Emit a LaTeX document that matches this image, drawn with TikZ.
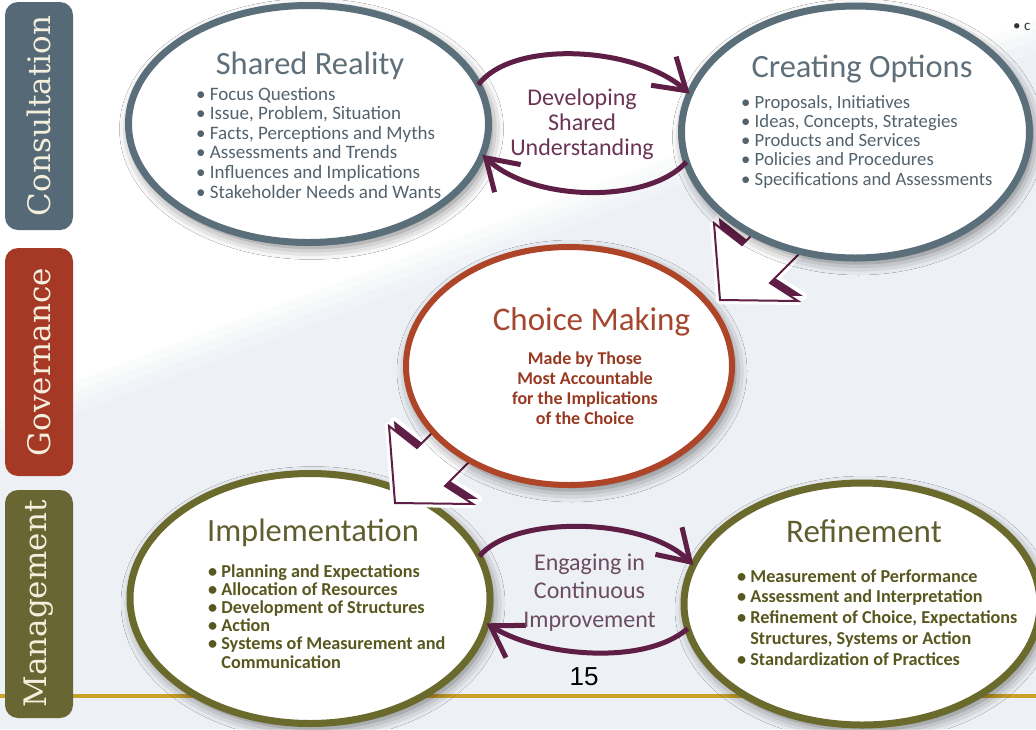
\documentclass[tikz,border=0pt]{standalone}
\usepackage{fontspec}
\setmainfont{Carlito}
\newfontfamily\sidefont{DejaVu Serif}
\newfontfamily\numfont{Liberation Sans}
\usetikzlibrary{arrows.meta,shapes.geometric,shadows.blur}
\definecolor{bg}{HTML}{EDF0F5}
\definecolor{slate}{HTML}{5B6F7B}
\definecolor{slatetxt}{HTML}{53636E}
\definecolor{slatettl}{HTML}{5F6F79}
\definecolor{brick}{HTML}{AE4529}
\definecolor{bricktxt}{HTML}{983921}
\definecolor{brickttl}{HTML}{A5472E}
\definecolor{olive}{HTML}{6B6A2D}
\definecolor{olivetxt}{HTML}{58571F}
\definecolor{olivettl}{HTML}{5F5E2E}
\definecolor{plum}{HTML}{5E1E45}
\definecolor{plumtxt}{HTML}{6A3555}
\definecolor{greyplum}{HTML}{6C4C63}
\definecolor{gold}{HTML}{C9A12B}
\definecolor{cons}{HTML}{556976}
\definecolor{gov}{HTML}{A53926}
\definecolor{mgmt}{HTML}{686633}
\definecolor{cream}{HTML}{F4EFDD}
\tikzset{
  bubble/.style={ellipse, fill=white, inner sep=0pt, outer sep=0pt,
    blur shadow={shadow xshift=3pt, shadow yshift=-5pt, shadow blur radius=12pt, shadow opacity=55}},
  sidebox/.style={rounded corners=13pt, minimum width=228pt, minimum height=68pt, inner sep=0pt,
    text=cream, rotate=90, font=\sidefont\fontsize{31}{31}\selectfont},
  ttl/.style={inner sep=0pt, anchor=base, font=\fontsize{32.5}{34}\selectfont},
  blt/.style={inner sep=0pt, anchor=base west},
  cycarrow/.style={draw=plum, line width=5pt, -{Straight Barb[length=30pt,width=38pt]}},
  flowtext/.style={inner sep=0pt, anchor=base, font=\fontsize{24}{26}\selectfont},
  blockarrow/.pic={
    \path[draw=white, fill=white, line width=8pt, line join=round]
      (0,0) -- (-6,-77) -- (22,-55) -- (72,-105) -- (100,-67) -- (50,-17) -- (78,1) -- cycle;
    \path[draw=white, fill=white, line width=8pt, line join=round, shift={(-5,5)}]
      (0,0) -- (-6,-77) -- (22,-55) -- (72,-105) -- (100,-67) -- (50,-17) -- (78,1) -- cycle;
    \fill[plum]
      (0,0) -- (-6,-77) -- (22,-55) -- (72,-105) -- (100,-67) -- (50,-17) -- (78,1) -- cycle;
    \path[fill=white, draw=plum, line width=2pt, shift={(-5,5)}]
      (0,0) -- (-6,-77) -- (22,-55) -- (72,-105) -- (100,-67) -- (50,-17) -- (78,1) -- cycle;
  }
}
\begin{document}
\begin{tikzpicture}[x=1pt,y=-1pt]
\useasboundingbox (0,0) rectangle (1036,729);
% background
\fill[bg] (0,0) rectangle (1036,729);
\foreach \d/\o in {0/1,10/0.55,20/0.35,32/0.2}
  \fill[white, opacity=\o] (0,0) -- (1036,0) -- (1036,{20+\d}) -- (0,{410+\d}) -- cycle;
\draw[gold, line width=3.5pt] (0,696) -- (1036,696);
% side labels
\node[sidebox, fill=cons] (consult) at (39,116) {Consultation};
\node[sidebox, fill=gov] (govern) at (39,362) {Governance};
\node[sidebox, fill=mgmt] (manage) at (39,604) {Management};
% ellipses
\node[bubble, draw=slate, line width=7pt, minimum width=360pt, minimum height=237pt] (sr) at (308.5,124) {};
\node[bubble, draw=olive, line width=7pt, minimum width=360pt, minimum height=250pt] (im) at (310,598.5) {};
\pic (ba2) at (400,498) {blockarrow};
\node[bubble, draw=brick, line width=6pt, minimum width=326pt, minimum height=238pt] (cm) at (569,366) {};
\pic (ba1) at (725,295) {blockarrow};
\node[bubble, draw=slate, line width=7pt, minimum width=348pt, minimum height=252pt] (co) at (855.5,132) {};
\node[bubble, draw=olive, line width=7pt, minimum width=356pt, minimum height=242pt] (rf) at (862,604) {};
% cycle arrows
\draw[cycarrow] (sr.13) .. controls +(33,-45) and +(-55,-48) .. (co.167);
\draw[cycarrow] (co.190) .. controls +(-37,42) and +(51,48) .. (sr.-10);
\draw[cycarrow] (im.14) .. controls +(33,-41) and +(-50,-49) .. (rf.167);
\draw[cycarrow] (rf.188) .. controls +(-42,37) and +(55,34) .. (im.-8);
% middle texts
\node[flowtext, text=plumtxt] (dev1) at (582,105) {Developing};
\node[flowtext, text=plumtxt] (dev2) at (582,130) {Shared};
\node[flowtext, text=plumtxt] (dev3) at (582,155) {Understanding};
\node[flowtext, text=greyplum] (eng1) at (589.5,570) {Engaging in};
\node[flowtext, text=greyplum] (eng2) at (589.5,598.5) {Continuous};
\node[flowtext, text=greyplum] (eng3) at (589.5,627) {Improvement};
\node[inner sep=0pt, font=\numfont\fontsize{26}{26}\selectfont] (pg) at (584,677) {15};
\node[blt, font=\fontsize{15}{15}\selectfont, text=black!80] (corner) at (1013,30) {• c};
% Shared Reality
\node[ttl, text=slatettl] (srt) at (310,74) {Shared Reality};
\foreach \itm [count=\i] in {Focus Questions,{Issue, Problem, Situation},{Facts, Perceptions and Myths},Assessments and Trends,Influences and Implications,Stakeholder Needs and Wants}
  \node[blt, text=slatetxt, font=\fontsize{19}{19}\selectfont] (sr-i\i) at (196,{100+19.6*(\i-1)}) {• \itm};
% Creating Options
\node[ttl, text=slatettl] (cot) at (862,77) {Creating Options};
\foreach \itm [count=\i] in {{Proposals, Initiatives},{Ideas, Concepts, Strategies},Products and Services,Policies and Procedures,Specifications and Assessments}
  \node[blt, text=slatetxt, font=\fontsize{18.7}{19}\selectfont] (co-i\i) at (741,{108+19.3*(\i-1)}) {• \itm};
% Choice Making
\node[ttl, text=brickttl, font=\fontsize{33}{34}\selectfont] (cmt) at (591.5,330) {Choice Making};
\foreach \itm [count=\i] in {Made by Those,Most Accountable,for the Implications,of the Choice}
  \node[inner sep=0pt, anchor=base, text=bricktxt, font=\bfseries\fontsize{18}{18}\selectfont] (cm-i\i) at (585,{364+20*(\i-1)}) {\itm};
% Implementation
\node[ttl, text=olivettl] (imt) at (313,541) {Implementation};
\foreach \itm [count=\i] in {• Planning and Expectations,• Allocation of Resources,• Development of Structures,• Action,• Systems of Measurement and,\phantom{• }Communication}
  \node[blt, text=olivetxt, font=\bfseries\fontsize{18.2}{18}\selectfont] (im-i\i) at (208,{577+18.2*(\i-1)}) {\itm};
% Refinement
\node[ttl, text=olivettl, font=\fontsize{33}{34}\selectfont] (rft) at (864,542) {Refinement};
\foreach \itm [count=\i] in {• Measurement of Performance,• Assessment and Interpretation,{• Refinement of Choice, Expectations},{\phantom{• }Structures, Systems or Action},• Standardization of Practices}
  \node[blt, text=olivetxt, font=\bfseries\fontsize{18.2}{18}\selectfont] (rf-i\i) at (737,{582+20.8*(\i-1)}) {\itm};
\end{tikzpicture}
\end{document}
